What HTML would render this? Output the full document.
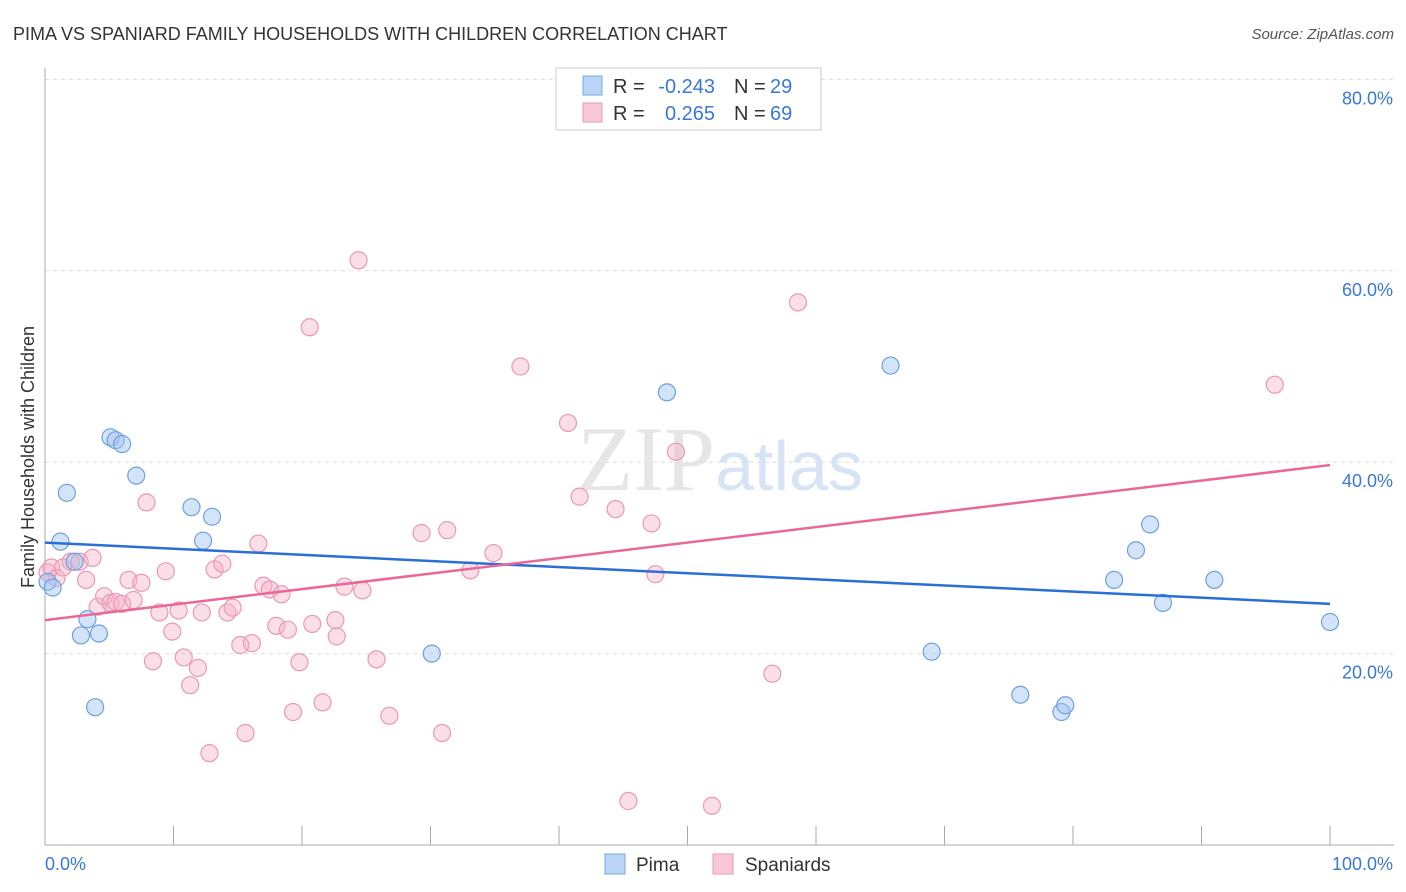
<!DOCTYPE html>
<html><head><meta charset="utf-8"><style>
body{margin:0;background:#fff;font-family:"Liberation Sans",sans-serif;}
svg{display:block}
</style></head><body>
<svg id="c" width="1406" height="892" xmlns="http://www.w3.org/2000/svg">
<text x="13" y="40" font-size="18" fill="#333">PIMA VS SPANIARD FAMILY HOUSEHOLDS WITH CHILDREN CORRELATION CHART</text>
<text x="1394" y="39" font-size="15" fill="#555" text-anchor="end" font-style="italic">Source: ZipAtlas.com</text>
<text x="720" y="490" font-size="92" fill="#e6e6e6" text-anchor="middle" font-family="Liberation Serif"><tspan>ZIP</tspan><tspan fill="#d6e4f5" font-family="Liberation Sans" font-size="70">atlas</tspan></text>
<text transform="translate(34,457) rotate(-90)" font-size="18" fill="#333" text-anchor="middle">Family Households with Children</text>
<g id="grid"></g><g id="pts"></g><g id="lines"></g>
<g font-size="20">
<rect x="556" y="68" width="265" height="62" fill="#fff" stroke="#ccc"/>
<rect x="583" y="76" width="19" height="19" fill="#b9d4f5" stroke="#7aa7e3"/>
<rect x="583" y="103" width="19" height="19" fill="#f9c8d6" stroke="#ec98b2"/>
<text x="613" y="93" fill="#333">R =</text>
<text x="715" y="93" fill="#3a78d8" text-anchor="end">-0.243</text>
<text x="734" y="93" fill="#333">N =</text>
<text x="770" y="93" fill="#3a78d8">29</text>
<text x="613" y="120" fill="#333">R =</text>
<text x="715" y="120" fill="#3a78d8" text-anchor="end">0.265</text>
<text x="734" y="120" fill="#333">N =</text>
<text x="770" y="120" fill="#3a78d8">69</text>
</g>
<g>
<rect x="605" y="854" width="20" height="20" fill="#b9d4f5" stroke="#7aa7e3"/>
<text x="636" y="871" font-size="19" fill="#333">Pima</text>
<rect x="713" y="854" width="20" height="20" fill="#f9c8d6" stroke="#ec98b2"/>
<text x="745" y="871" font-size="19" fill="#333">Spaniards</text>
</g>
</svg>
<script>
const yTicks=[20,40,60,80];
const yTickLabels=["20.0%","40.0%","60.0%","80.0%"];
const xTickLabels=["0.0%","100.0%"];
const pimaX=[0.2,0.6,1.2,1.7,2.3,2.8,3.3,3.9,4.2,5.1,5.5,6.0,7.1,11.4,12.3,13.0,30.1,48.4,65.8,69.0,75.9,79.1,79.4,83.2,84.9,86.0,87.0,91.0,100.0];
const pimaY=[27.5,26.9,31.7,36.8,29.6,21.9,23.6,14.4,22.1,42.6,42.3,41.9,38.6,35.3,31.8,34.3,20.0,47.3,50.1,20.2,15.7,13.9,14.6,27.7,30.8,33.5,25.3,27.7,23.3];
const spanX=[0.2,0.5,0.9,1.4,2.0,2.7,3.2,3.7,4.1,4.6,5.1,5.5,6.0,6.5,6.9,7.5,7.9,8.4,8.9,9.4,9.9,10.4,10.8,11.3,11.9,12.2,12.8,13.2,13.8,14.2,14.6,15.2,15.6,16.1,16.6,17.0,17.5,18.0,18.4,18.9,19.3,19.8,20.6,20.8,21.6,22.6,22.7,23.3,24.4,24.7,25.8,26.8,29.3,30.9,31.3,33.1,34.9,37.0,40.7,41.6,44.4,45.4,47.2,47.5,49.1,51.9,56.6,58.6,95.7];
const spanY=[28.5,29.0,27.9,29.0,29.6,29.6,27.7,30.0,24.9,26.0,25.3,25.4,25.2,27.7,25.6,27.4,35.8,19.2,24.3,28.6,22.3,24.5,19.6,16.7,18.5,24.3,9.6,28.8,29.4,24.3,24.8,20.9,11.7,21.1,31.5,27.1,26.7,22.9,26.2,22.5,13.9,19.1,54.1,23.1,14.9,23.5,21.8,27.0,61.1,26.6,19.4,13.5,32.6,11.7,32.9,28.7,30.5,50.0,44.1,36.4,35.1,4.6,33.6,28.3,41.1,4.1,17.9,56.7,48.1];
const pimaTrend=[31.6,25.2], spanTrend=[23.5,39.7];
const NS="http://www.w3.org/2000/svg";
const X=v=>45+v*12.85, Y=v=>845-v*9.57;
function mk(t,a,p){const e=document.createElementNS(NS,t);for(const k in a)e.setAttribute(k,a[k]);p.appendChild(e);return e;}
const grid=document.getElementById('grid');
yTicks.forEach((t,i)=>{
 const l=mk('line',{x1:45,x2:1394,y1:Y(t),y2:Y(t),stroke:'#ddd','stroke-dasharray':'4,4'},grid);
 
 
 const tx=mk('text',{x:1393,y:Y(t)+25,'font-size':18,fill:'#3a78d8','text-anchor':'end'},grid);
 tx.textContent=yTickLabels[i];
 
 
});
const ax=mk('line',{x1:45,x2:45,y1:68,y2:845,stroke:'#aaa'},grid);


const bx=mk('line',{x1:45,x2:1394,y1:845,y2:845,stroke:'#aaa'},grid);


for(let i=0;i<=10;i++){mk('line',{x1:X(i*10),x2:X(i*10),y1:826,y2:845,stroke:'#aaa'},grid);}
[[0,'start',45],[1,'end',1393]].forEach(([i,a,x])=>{
 const t=mk('text',{x:x,y:870,'font-size':18,fill:'#3a78d8','text-anchor':a},grid);
 t.textContent=xTickLabels[i];
 
 
});
const pts=document.getElementById('pts');
spanX.forEach((v,i)=>{
 const c=mk('circle',{cx:X(v),cy:Y(spanY[i]),r:8.5,fill:'rgba(246,176,198,0.4)',stroke:'#ec98b2','stroke-width':1.2},pts);
 
 
});
pimaX.forEach((v,i)=>{
 const c=mk('circle',{cx:X(v),cy:Y(pimaY[i]),r:8.5,fill:'rgba(160,196,240,0.45)',stroke:'#6fa0e0','stroke-width':1.2},pts);
 
 
});
const lines=document.getElementById('lines');
const l1=mk('line',{x1:X(0),y1:Y(pimaTrend[0]),x2:X(100),y2:Y(pimaTrend[1]),stroke:'#2a6fd6','stroke-width':2.5},lines);


const l2=mk('line',{x1:X(0),y1:Y(spanTrend[0]),x2:X(100),y2:Y(spanTrend[1]),stroke:'#e8689a','stroke-width':2.5},lines);


</script>
</body></html>
